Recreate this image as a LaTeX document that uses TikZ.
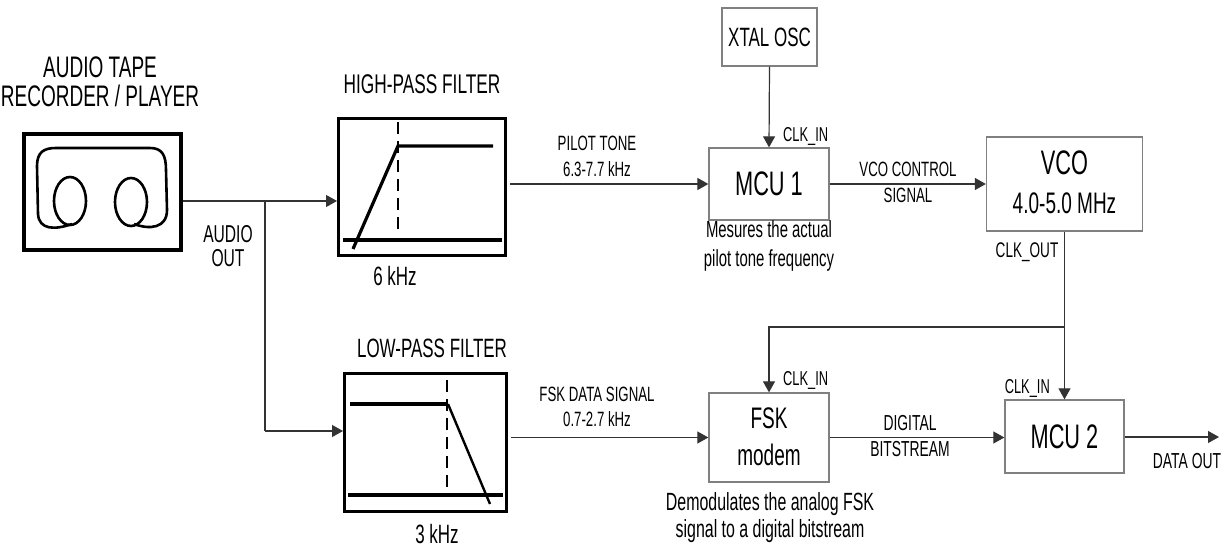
\documentclass[tikz,border=0pt]{standalone}
\usepackage{fontspec}
\setmainfont[FakeStretch=0.64]{Liberation Sans}
\usetikzlibrary{arrows.meta}
\newcommand\fsz[1]{\fontsize{#1}{#1}\selectfont}
\definecolor{linec}{HTML}{333333}
\definecolor{boxc}{HTML}{808080}
\begin{document}
\begin{tikzpicture}[x=1pt,y=-1pt,
  conn/.style={draw=linec, line width=1.2pt},
  arr/.style={conn, -{Triangle[length=11pt,width=12pt]}},
  blk/.style={draw=boxc, line width=1.3pt, inner sep=0pt},
  fbox/.style={draw=black, line width=3pt, inner sep=0pt},
  curve/.style={draw=black, line width=3.2pt},
  cutoff/.style={draw=black, line width=1.2pt, dash pattern=on 12pt off 7pt},
  reel/.style={draw=black, line width=2.6pt},
  lbl/.style={anchor=base, inner sep=0pt}]
\useasboundingbox (0,0) rectangle (1232,548);

% --- tape recorder ---
\node[fbox, line width=4pt, minimum width=157pt, minimum height=116pt] (tape) at (102.5,192) {};
\draw[reel] (70,201) ellipse [x radius=16pt, y radius=24pt];
\draw[reel] (131,202) ellipse [x radius=16pt, y radius=24pt];
\draw[reel, line join=round] (72,224) .. controls (55,230) and (39,230) .. (38,214)
  -- (37,166) .. controls (37,152) and (44,148) .. (56,148)
  -- (150,148) .. controls (162,148) and (166,155) .. (166,170)
  -- (167,210) .. controls (167,228) and (150,230) .. (134,224);
\node[lbl, font=\fsz{29.7}] (t1) at (100,78) {AUDIO TAPE};
\node[lbl, font=\fsz{29.7}] (t2) at (100,107) {RECORDER / PLAYER};
\node[lbl, font=\fsz{24.4}] (ao1) at (228,243) {AUDIO};
\node[lbl, font=\fsz{24.4}] (ao2) at (228,267) {OUT};

% --- high-pass filter ---
\node[fbox, minimum width=167pt, minimum height=137pt] (hpf) at (422,187) {};
\draw[curve] (343,240) -- (502,240);
\draw[curve, line join=miter] (353,249) -- (398,146) -- (493,146);
\draw[cutoff] (398,122) -- (398,235);
\node[lbl, font=\fsz{27}] (hpft) at (422,94) {HIGH-PASS FILTER};
\node[lbl, font=\fsz{26.5}] (hpff) at (395,285) {6 kHz};

% --- low-pass filter ---
\node[fbox, minimum width=162pt, minimum height=138pt] (lpf) at (425.5,442.5) {};
\draw[curve] (350,404) -- (448,404);
\draw[curve, line width=2.4pt] (448,404) -- (490,504);
\draw[curve] (348,495) -- (503,495);
\draw[cutoff] (447,380) -- (447,492);
\node[lbl, font=\fsz{26.5}] (lpft) at (432,357) {LOW-PASS FILTER};
\node[lbl, font=\fsz{26.5}] (lpff) at (437,543) {3 kHz};

% --- blocks ---
\node[blk, minimum width=95pt, minimum height=58pt, font=\fsz{26.5}] (xtal) at (769.5,37) {XTAL OSC};
\node[blk, minimum width=120pt, minimum height=72pt, font=\fsz{34}] (mcu1) at (769,184) {MCU 1};
\node[blk, minimum width=156pt, minimum height=94pt] (vco) at (1064.5,184) {};
\node[blk, minimum width=120pt, minimum height=89pt] (fsk) at (769,437.5) {};
\node[blk, minimum width=119pt, minimum height=73pt, font=\fsz{34}] (mcu2) at (1064.5,436.5) {MCU 2};

\node[lbl, font=\fsz{34}] (vco1) at (1064.5,175) {VCO};
\node[lbl, font=\fsz{29.7}] (vco2) at (1064.5,214) {4.0-5.0 MHz};
\node[lbl, font=\fsz{29.7}] (fsk1) at (769,428) {FSK};
\node[lbl, font=\fsz{29.7}] (fsk2) at (769,465) {modem};

% --- labels ---
\node[lbl, font=\fsz{20.7}] (pt1) at (597,151) {PILOT TONE};
\node[lbl, font=\fsz{20.7}] (pt2) at (597,177) {6.3-7.7 kHz};
\node[lbl, font=\fsz{20.1}, anchor=base west] (ck1) at (783,142) {CLK\_IN};
\node[lbl, font=\fsz{23.3}] (ms1) at (769,238) {Mesures the actual};
\node[lbl, font=\fsz{23.3}] (ms2) at (769,267) {pilot tone frequency};
\node[lbl, font=\fsz{20.7}] (vc1) at (908,177) {VCO CONTROL};
\node[lbl, font=\fsz{20.7}] (vc2) at (908,203) {SIGNAL};
\node[lbl, font=\fsz{21.2}] (cko) at (1027,258) {CLK\_OUT};
\node[lbl, font=\fsz{20.7}] (fd1) at (597,401) {FSK DATA SIGNAL};
\node[lbl, font=\fsz{20.7}] (fd2) at (597,426) {0.7-2.7 kHz};
\node[lbl, font=\fsz{20.1}, anchor=base west] (ck2) at (783,385) {CLK\_IN};
\node[lbl, font=\fsz{24.9}] (dm1) at (770,510) {Demodulates the analog FSK};
\node[lbl, font=\fsz{24.9}] (dm2) at (770,537) {signal to a digital bitstream};
\node[lbl, font=\fsz{21.7}] (db1) at (910,430) {DIGITAL};
\node[lbl, font=\fsz{21.7}] (db2) at (910,456) {BITSTREAM};
\node[lbl, font=\fsz{20.1}, anchor=base east] (ck3) at (1050,393) {CLK\_IN};
\node[lbl, font=\fsz{21.7}] (dout) at (1187,468) {DATA OUT};

% --- connectors ---
\coordinate (j) at (265,201);
\coordinate (jl) at (265,431);
\coordinate (k) at (1064.5,327);
\coordinate (outend) at (1219,437);
\draw[arr] (tape.east |- j) -- (hpf.west |- j);
\draw[conn] (j) -- (jl);
\draw[arr] (jl) -- (lpf.west |- jl);
\draw[arr] ([xshift=3pt]hpf.east |- mcu1.west) -- (mcu1.west);
\draw[arr] ([xshift=3pt]lpf.east |- fsk.east) -- (fsk.west);
\draw[arr] (xtal.south) -- (mcu1.north);
\draw[arr] (mcu1.east) -- (vco.west);
\draw[arr] (vco.south) -- (mcu2.north);
\draw[arr] (k) -| (fsk.north);
\draw[arr] (fsk.east) -- (mcu2.west |- fsk.east);
\draw[arr] (mcu2.east |- outend) -- (outend);
\end{tikzpicture}
\end{document}
